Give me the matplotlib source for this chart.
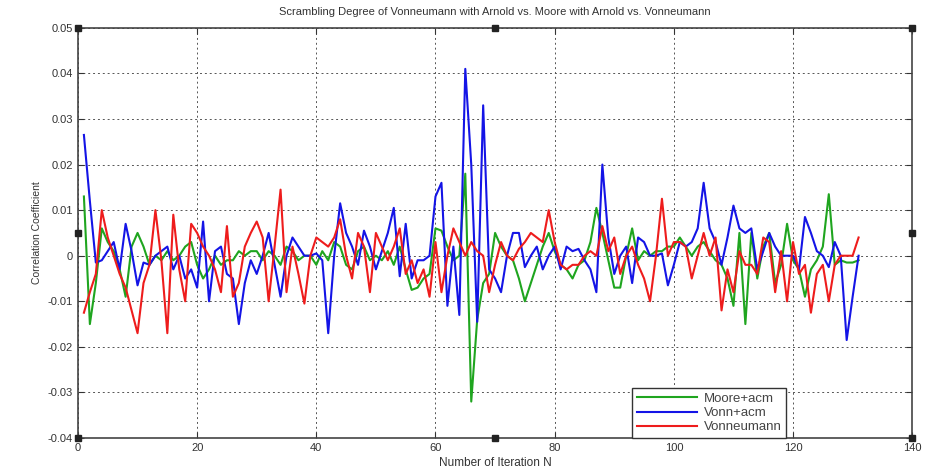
import matplotlib
matplotlib.use('Agg')
import matplotlib.pyplot as plt
import numpy as np

plt.rcParams['font.family'] = ['Liberation Sans', 'DejaVu Sans']

# iteration numbers
iters = np.arange(1, 132)

moore_acm = [
    0.013, -0.015, -0.006, 0.006, 0.003, 0.001, -0.003, -0.009, 0.002, 0.005,
    0.002, -0.002, 0.0, -0.001, 0.001, -0.001, 0.0, 0.002, 0.003, -0.002,
    -0.005, -0.003, 0.0, -0.002, -0.001, -0.001, 0.001, 0.0, 0.001, 0.001,
    -0.001, 0.001, 0.0, -0.002, 0.002, 0.001, -0.001, 0.0, 0.0, -0.002,
    0.001, -0.001, 0.003, 0.002, -0.002, -0.003, 0.001, 0.002, -0.001, 0.0,
    -0.001, 0.001, -0.002, 0.002, -0.003, -0.0075, -0.007, -0.005, -0.004, 0.006,
    0.0055, 0.002, -0.001, 0.0, 0.018, -0.032, -0.014, -0.006, -0.004, 0.005,
    0.002, 0.0, -0.001, -0.005, -0.01, -0.006, -0.002, 0.002, 0.005, 0.001,
    -0.002, -0.003, -0.005, -0.002, -0.001, 0.003, 0.0105, 0.005, -0.001, -0.007,
    -0.007, 0.0, 0.006, -0.001, 0.001, 0.0, 0.001, 0.001, 0.002, 0.002,
    0.004, 0.002, 0.0, 0.002, 0.003, 0.001, -0.001, -0.002, -0.005, -0.011,
    0.005, -0.015, 0.005, -0.005, 0.002, 0.005, -0.006, -0.002, 0.007, -0.001,
    -0.003, -0.009, -0.003, -0.001, 0.002, 0.0135, -0.002, -0.001, -0.0015, -0.0015,
    -0.001,
]

vonn_acm = [
    0.0265, 0.012, -0.0015, -0.001, 0.001, 0.003, -0.003, 0.007, 0.001, -0.0065,
    -0.0015, -0.002, 0.0, 0.001, 0.002, -0.003, 0.0, -0.005, -0.003, -0.007,
    0.0075, -0.01, 0.001, 0.002, -0.004, -0.005, -0.015, -0.006, -0.001, -0.004,
    0.0, 0.005, -0.002, -0.009, 0.0, 0.004, 0.002, 0.0, 0.0, 0.0005,
    -0.001, -0.017, 0.0, 0.0115, 0.005, 0.002, -0.002, 0.0055, 0.002, -0.003,
    0.001, 0.005, 0.0105, -0.0045, 0.007, -0.005, -0.001, -0.001, 0.0, 0.013,
    0.016, -0.011, 0.002, -0.013, 0.041, 0.02, -0.0145, 0.033, -0.003, -0.005,
    -0.008, 0.0, 0.005, 0.005, -0.0025, 0.0, 0.002, -0.003, 0.0, 0.002,
    -0.003, 0.002, 0.001, 0.0015, -0.001, -0.003, -0.008, 0.02, 0.004, -0.004,
    0.0, 0.002, -0.006, 0.004, 0.003, 0.0, 0.0, 0.0005, -0.0065, -0.002,
    0.003, 0.002, 0.003, 0.006, 0.016, 0.006, 0.003, -0.002, 0.004, 0.011,
    0.006, 0.005, 0.006, -0.003, 0.001, 0.005, 0.002, 0.0, 0.0, 0.0,
    -0.003, 0.0085, 0.005, 0.001, 0.0, -0.0025, 0.003, 0.0, -0.0185, -0.009,
    0.0,
]

vonneumann = [
    -0.0125, -0.008, -0.004, 0.01, 0.004, 0.0, -0.004, -0.007, -0.012, -0.017,
    -0.006, -0.002, 0.01, -0.001, -0.017, 0.009, -0.003, -0.01, 0.007, 0.005,
    0.002, 0.0, -0.003, -0.008, 0.0065, -0.009, -0.006, 0.002, 0.005, 0.0075,
    0.004, -0.01, 0.002, 0.0145, -0.008, 0.002, -0.004, -0.0105, 0.0, 0.004,
    0.003, 0.002, 0.004, 0.008, 0.0, -0.005, 0.005, 0.002, -0.008, 0.005,
    0.002, -0.001, 0.002, 0.006, -0.004, -0.001, -0.006, -0.003, -0.009, 0.003,
    -0.008, 0.0, 0.006, 0.003, 0.0, 0.003, 0.001, 0.0, -0.008, -0.002,
    0.003, 0.0, -0.001, 0.0015, 0.003, 0.005, 0.004, 0.003, 0.01, 0.003,
    -0.002, -0.003, -0.002, -0.002, 0.0, 0.001, 0.0, 0.0065, 0.001, 0.004,
    -0.004, 0.0, 0.002, -0.002, -0.005, -0.01, 0.0, 0.0125, 0.0, 0.003,
    0.003, 0.002, -0.005, 0.0, 0.005, 0.0, 0.004, -0.012, -0.003, -0.008,
    0.001, -0.002, -0.002, -0.004, 0.004, 0.003, -0.008, 0.001, -0.01, 0.003,
    -0.004, -0.002, -0.0125, -0.004, -0.002, -0.01, -0.002, 0.0, 0.0, 0.0,
    0.004,
]

xticks = [0, 20, 40, 60, 80, 100, 120, 140]
yticks = [-0.04, -0.03, -0.02, -0.01, 0, 0.01, 0.02, 0.03, 0.04, 0.05]
ytick_labels = ['-0.04', '-0.03', '-0.02', '-0.01', '0', '0.01', '0.02', '0.03', '0.04', '0.05']

# MATLAB selection handles left on the axes
handle_x = [0, 70, 140, 0, 140, 0, 70, 140]
handle_y = [0.05, 0.05, 0.05, 0.005, 0.005, -0.04, -0.04, -0.04]

fig = plt.figure(figsize=(9.28, 4.72), dpi=100)
ax = fig.add_axes([0.084, 0.072, 0.899, 0.869])

ax.plot(iters, moore_acm, color='#1fa51f', lw=1.5, label='Moore+acm')
ax.plot(iters, vonn_acm, color='#1414e6', lw=1.5, label='Vonn+acm')
ax.plot(iters, vonneumann, color='#ee1c1c', lw=1.5, label='Vonneumann')

ax.set_xlim(0, 140)
ax.set_ylim(-0.04, 0.05)
ax.set_xticks(xticks)
ax.set_yticks(yticks)
ax.set_yticklabels(ytick_labels)
ax.tick_params(direction='in', top=True, right=True, labelsize=8, colors='#333333', length=4)
ax.grid(True, color='#555555', linestyle=(0, (2, 3)), linewidth=0.7)
for s in ax.spines.values():
    s.set_color('#444444')
    s.set_linewidth(1.2)

ax.plot(handle_x, handle_y, 's', color='#222222', ms=4, clip_on=False, zorder=5)

ax.set_title('Scrambling Degree of Vonneumann with Arnold vs. Moore with Arnold vs. Vonneumann',
             fontsize=8, color='#333333', pad=9)
ax.set_xlabel('Number of Iteration N', fontsize=8.5, color='#333333', labelpad=3)
ax.set_ylabel('Correlation Coefficient', fontsize=7.5, color='#333333', labelpad=4)

leg = ax.legend(loc='lower left', bbox_to_anchor=(0.664, 0.0), borderaxespad=0,
                fontsize=9.5, handlelength=4.6, fancybox=False, framealpha=1,
                edgecolor='#333333', labelspacing=0.15, borderpad=0.35,
                handletextpad=0.5)
for t in leg.get_texts():
    t.set_color('#444444')

fig.savefig('out.png', dpi=100)
